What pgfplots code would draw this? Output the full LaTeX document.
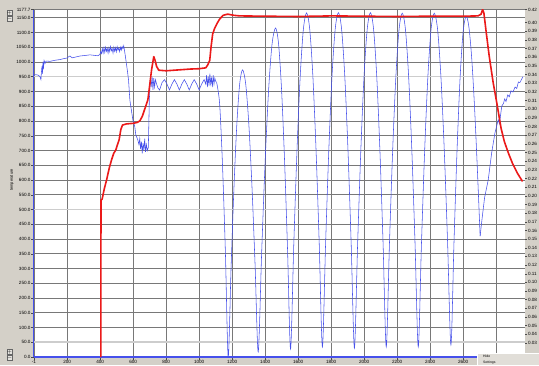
\documentclass[border=0pt]{standalone}
\usepackage{fontspec}
\setmainfont{Liberation Sans}
\usepackage{pgfplots}
\pgfplotsset{compat=1.18}
\definecolor{bg}{RGB}{212,208,200}
\definecolor{gridc}{RGB}{120,120,120}
\definecolor{gridl}{RGB}{205,205,205}
\definecolor{bl}{RGB}{70,80,235}
\definecolor{rd}{RGB}{235,25,25}
\newcommand{\tk}{\fontsize{4.6}{5}\selectfont}
\begin{document}
\begin{tikzpicture}[x=1pt,y=1pt]
\fill[bg] (0,0) rectangle (539,365);
\useasboundingbox (0,0) rectangle (539,365);
\begin{axis}[at={(34pt,8pt)}, anchor=south west, width=491pt, height=347.5pt, scale only axis,
  xmin=-1, xmax=2975, ymin=0, ymax=1177.7,
  axis background/.style={fill=white},
  axis x line*=bottom, axis y line*=left,
  x axis line style={-, draw=bl, line width=1.5pt},
  y axis line style={-, draw=bl, line width=1pt},
  xtick={-1,200,400,600,800,1000,1200,1400,1600,1800,2000,2200,2400,2600,2800},
  xticklabels={-1,200,400,600,800,1000,1200,1400,1600,1800,2000,2200,2400,2600,{}},
  ytick={0,50,100,150,200,250,300,350,400,450,500,550,600,650,700,750,800,850,900,950,1000,1050,1100,1150,1177.7},
  xmajorgrids, ymajorgrids,
  major grid style={gridc, line width=0.5pt},
  tick align=outside, major tick length=2.5pt,
  tick style={black!70, line width=0.4pt},
  extra y ticks={50,500,950}, extra y tick labels={},
  extra y tick style={major tick length=0pt, grid=major, major grid style={gridl, line width=1.5pt}},
  xticklabel style={font=\tk, inner sep=0.5pt},
  yticklabel style={font=\tk, inner sep=0.8pt, /pgf/number format/.cd, fixed, fixed zerofill, precision=1, 1000 sep={}},
  /pgf/number format/1000 sep={},
  /pgf/number format/assume math mode=true,
  clip=true]
% blue: noisy first part
\addplot[bl, line width=0.55pt] coordinates {
(-1,955)(10,957)(25,955)(35,950)(41,940)(44,965)(47,985)(50,960)(53,1000)(56,975)(60,1005)(66,995)(72,1003)(96,1002)(130,1006)(156,1008)(185,1012)(199,1013)(210,1018)(217,1020)(230,1014)(247,1016)(277,1020)(310,1022)(338,1024)(370,1022)(386,1021)(398,1025)(403,1035)(408,1028)(413,1045)(418,1030)(423,1048)(428,1032)(433,1050)(438,1036)(443,1046)(448,1030)(453,1048)(458,1035)(463,1052)(468,1038)(473,1045)(478,1030)(483,1050)(488,1036)(493,1048)(498,1034)(503,1052)(508,1040)(513,1047)(518,1035)(523,1050)(528,1040)(533,1052)(538,1045)(543,1055)
(550,1030)(556,1007)(565,970)(572,939)(580,871)(598,804)(610,780)(616,753)(628,736)(635,720)(640,740)(645,705)(650,730)(655,690)(660,725)(665,700)(670,740)(675,695)(680,720)(686,700)(692,710)(698,870)(704,940)
(710,920)(715,950)(720,905)(725,945)(730,915)(735,940)(742,925)(750,912)(760,905)(775,930)(790,940)(805,925)(820,905)(835,925)(850,940)(865,925)(880,905)(895,925)(910,940)(925,925)(940,905)(955,925)(970,940)(985,925)(1000,905)(1015,925)(1030,940)(1040,925)(1045,955)(1050,915)(1055,950)(1060,920)(1065,960)(1070,925)(1075,945)(1080,915)(1085,955)(1090,925)(1095,945)(1100,935)(1106,930)
};
% blue: oscillations
\addplot[bl, line width=0.55pt, smooth, tension=0.5] coordinates {
(1106,930)(1124,859)(1141,658)(1159,356)(1176,0)
(1193.4,301)(1210.8,572)(1228.2,787)(1245.6,925)(1263,973)
(1282,926)(1301,790)(1320,579)(1339,312)(1358,17)
(1379,356)(1400,663)(1421,905)(1442,1061)(1463,1115)
(1481.2,1062)(1499.4,907)(1517.6,667)(1535.8,363)(1554,27)
(1573.4,379)(1592.8,697)(1612.2,948)(1631.6,1110)(1651,1166)
(1670.2,1111)(1689.4,950)(1708.6,700)(1727.8,384)(1747,34)
(1766.4,384)(1785.8,700)(1805.2,951)(1824.6,1111)(1844,1167)
(1863.4,1111)(1882.8,950)(1902.2,699)(1921.6,381)(1941,30)
(1960.4,381)(1979.8,699)(1999.2,950)(2018.6,1111)(2038,1167)
(2057.2,1111)(2076.4,951)(2095.6,700)(2114.8,384)(2134,34)
(2153.4,383)(2172.8,699)(2192.2,949)(2211.6,1110)(2231,1165)
(2250.4,1110)(2269.8,949)(2289.2,699)(2308.6,383)(2328,34)
(2347.4,383)(2366.8,699)(2386.2,949)(2405.6,1110)(2425,1165)
(2445.2,1110)(2465.4,950)(2485.6,702)(2505.8,388)(2526,41)
(2544.4,385)(2562.8,696)(2581.2,942)(2599.6,1100)(2618,1155)
(2635,1118)(2652,1013)(2669,848)(2686,640)(2703,410)
};
\addplot[bl, line width=0.55pt] coordinates {
(2703,410)(2715,470)(2730,540)(2752,600)(2773,692)(2793,760)(2813,804)(2820,790)(2834,850)(2845,860)(2852,875)(2860,866)(2870,888)(2880,882)(2890,902)(2902,898)(2915,915)(2925,910)(2935,932)(2944,930)(2962,950)
};
% red
\addplot[rd, line width=1.6pt, line join=round] coordinates {
(404,0)(405,532)(412,535)(425,570)(439,600)(455,640)(469,668)(482,690)(495,702)(505,720)(515,736)(525,770)(535,786)(560,790)(600,792)(625,795)(640,800)(655,815)(670,840)(689,871)(700,920)(712,975)(725,1018)(733,1005)(742,985)(755,972)(800,970)(850,972)(900,974)(950,976)(1000,977)(1040,980)(1052,990)(1064,1005)(1072,1050)(1082,1095)(1094,1114)(1110,1132)(1124,1145)(1145,1158)(1173,1162)(1210,1158)(1245,1156)(1400,1155)(1600,1154)(1800,1156)(2000,1155)(2200,1154)(2400,1155)(2600,1155)(2690,1156)(2709,1162)(2718,1178)(2726,1165)(2740,1100)(2758,1020)(2782,930)(2806,855)(2830,775)(2850,730)(2875,690)(2900,655)(2930,622)(2960,595)
};
\end{axis}
\begin{axis}[at={(34pt,8pt)}, anchor=south west, width=491pt, height=347.5pt, scale only axis,
  xmin=-1, xmax=2975, ymin=0.0138, ymax=0.4152,
  axis x line=none, axis y line*=right,
  y axis line style={draw=none},
  ytick={0.03,0.04,0.05,0.06,0.07,0.08,0.09,0.10,0.11,0.12,0.13,0.14,0.15,0.16,0.17,0.18,0.19,0.20,0.21,0.22,0.23,0.24,0.25,0.26,0.27,0.28,0.29,0.30,0.31,0.32,0.33,0.34,0.35,0.36,0.37,0.38,0.39,0.40},
  extra y ticks={0.4152}, extra y tick labels={0.42},
  tick align=outside, major tick length=2pt,
  tick style={black!70, line width=0.4pt},
  yticklabel style={font=\tk, inner sep=0.8pt, /pgf/number format/.cd, fixed, fixed zerofill, precision=2},
  /pgf/number format/assume math mode=true]
\end{axis}
% decorations
\node[rotate=90, font=\fontsize{4}{5}\selectfont, inner sep=0] at (12,185) {temperature};
\foreach \yy/\s in {352/+,346/-,13/+,7/-}{
  \draw[fill=bg!60!white, draw=black!60, line width=0.3pt] (7,\yy-2.5) rectangle (12,\yy+2.5);
  \node[font=\fontsize{4}{4}\selectfont, inner sep=0] at (9.5,\yy) {$\s$};
}
\fill[bg!70!white] (477,0) rectangle (539,11.5);
\draw[white, line width=0.4pt] (477,0) -- (477,11.5) -- (539,11.5);
\node[anchor=west, font=\fontsize{3.4}{4}\selectfont, inner sep=0] at (483,8.3) {Hide};
\node[anchor=west, font=\fontsize{3.4}{4}\selectfont, inner sep=0] at (483,2.4) {Settings};
\end{tikzpicture}
\end{document}
